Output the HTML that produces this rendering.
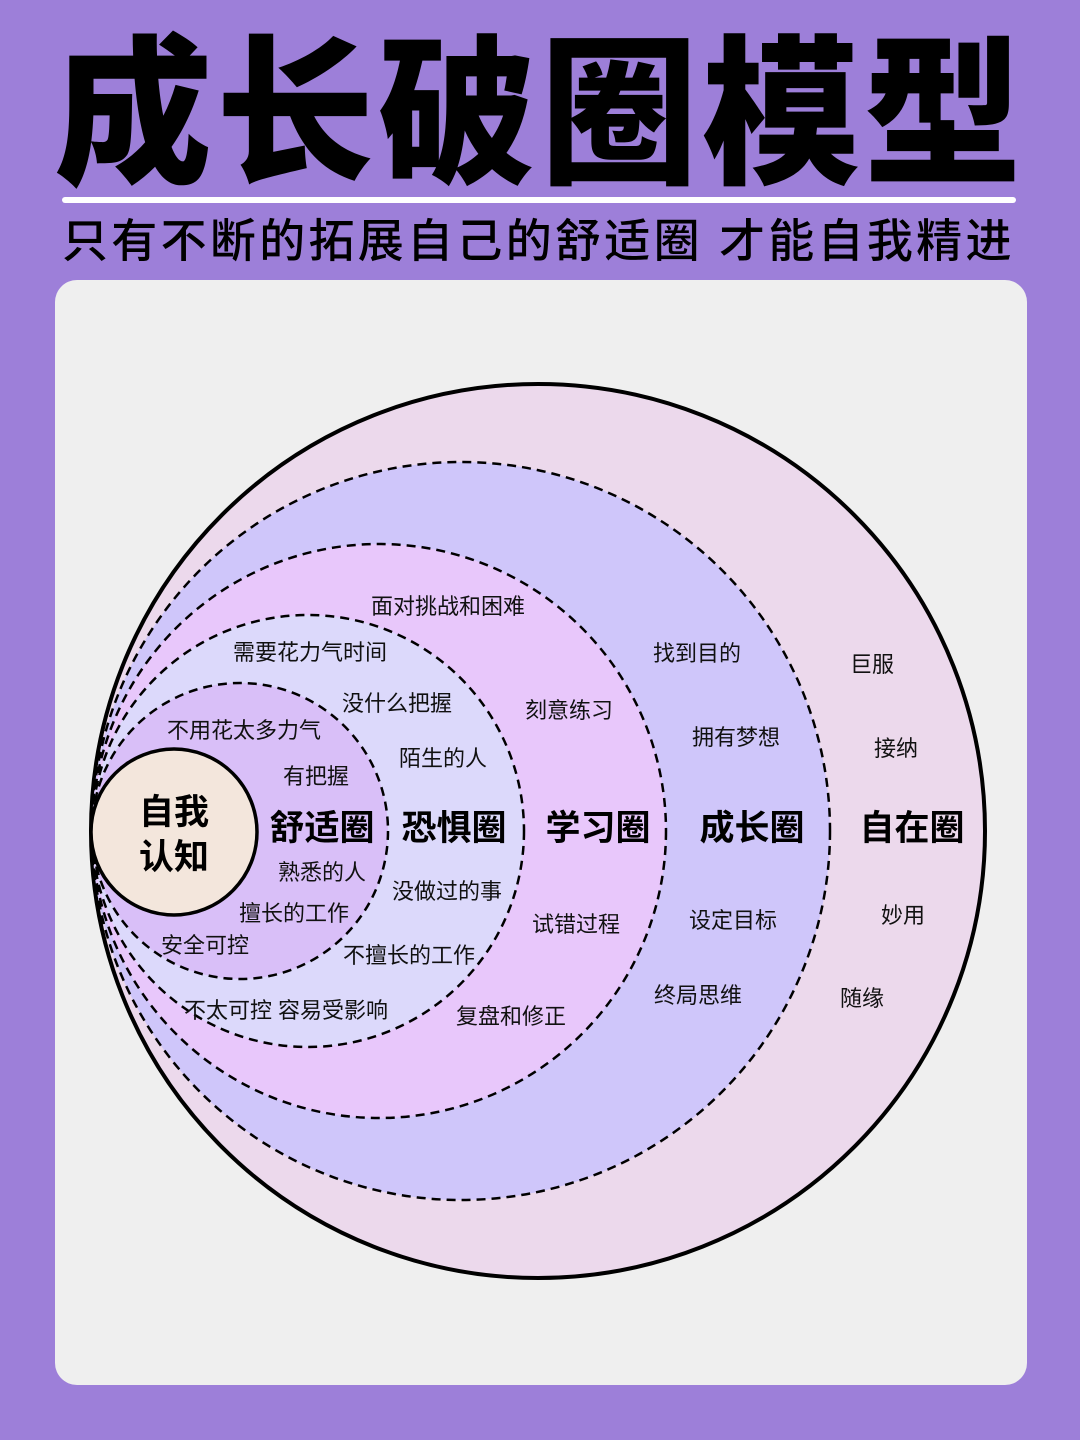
<!DOCTYPE html>
<html><head><meta charset="utf-8"><style>
html,body{margin:0;padding:0}
body{width:1080px;height:1440px;background:#9d7fd9;position:relative;overflow:hidden;font-family:"Liberation Sans","Noto Sans CJK SC",sans-serif}
.title{position:absolute;left:0;top:26px;width:1080px;text-align:center;font-size:158px;font-weight:900;color:#000;letter-spacing:4px;line-height:180px;transform:scaleY(1.02)}
.line{position:absolute;left:62px;top:197px;width:954px;height:6px;background:#fff;border-radius:3px}
.sub{position:absolute;left:62px;top:210px;width:980px;font-size:46px;font-weight:500;color:#000;line-height:62px;white-space:nowrap;letter-spacing:3.3px}
.panel{position:absolute;left:55px;top:280px;width:972px;height:1105px;background:#efefef;border-radius:22px}
svg{position:absolute;left:0;top:0}
</style></head><body>
<div class="title">成长破圈模型</div>
<div class="line"></div>
<div class="sub">只有不断的拓展自己的舒适圈 才能自我精进</div>
<div class="panel"></div>
<svg width="1080" height="1440" viewBox="0 0 1080 1440" font-family="Liberation Sans, Noto Sans CJK SC, sans-serif">
<circle cx="538" cy="831" r="447" fill="#ecd9ec" stroke="#000" stroke-width="4"/>
<g stroke="#000" stroke-width="2.5" stroke-dasharray="9,6">
<circle cx="461" cy="831" r="369" fill="#cfc6fa"/>
<circle cx="379" cy="831" r="287" fill="#e8c7fb"/>
<circle cx="308" cy="831" r="216" fill="#dcd9fb"/>
<circle cx="240" cy="831" r="148" fill="#d9bff8"/>
</g>
<circle cx="174" cy="832" r="83" fill="#f3e6dc" stroke="#000" stroke-width="3.5"/>
<g font-weight="bold" font-size="35" fill="#000" text-anchor="middle">
<text x="174" y="824">自我</text><text x="174" y="869">认知</text>
<text x="322" y="840">舒适圈</text>
<text x="454" y="840">恐惧圈</text>
<text x="598" y="840">学习圈</text>
<text x="752" y="840">成长圈</text>
<text x="912" y="840">自在圈</text>
</g>
<g font-size="22" fill="#111" text-anchor="middle">
<text x="448" y="614">面对挑战和困难</text>
<text x="310" y="660">需要花力气时间</text>
<text x="397" y="711">没什么把握</text>
<text x="244" y="738">不用花太多力气</text>
<text x="443" y="766">陌生的人</text>
<text x="316" y="784">有把握</text>
<text x="322" y="880">熟悉的人</text>
<text x="447" y="899">没做过的事</text>
<text x="294" y="921">擅长的工作</text>
<text x="205" y="953">安全可控</text>
<text x="409" y="963">不擅长的工作</text>
<text x="286" y="1018">不太可控 容易受影响</text>
<text x="511" y="1024">复盘和修正</text>
<text x="569" y="718">刻意练习</text>
<text x="576" y="932">试错过程</text>
<text x="697" y="661">找到目的</text>
<text x="736" y="745">拥有梦想</text>
<text x="733" y="928">设定目标</text>
<text x="698" y="1003">终局思维</text>
<text x="872" y="672">巨服</text>
<text x="896" y="756">接纳</text>
<text x="903" y="923">妙用</text>
<text x="862" y="1006">随缘</text>
</g>
</svg>
</body></html>
